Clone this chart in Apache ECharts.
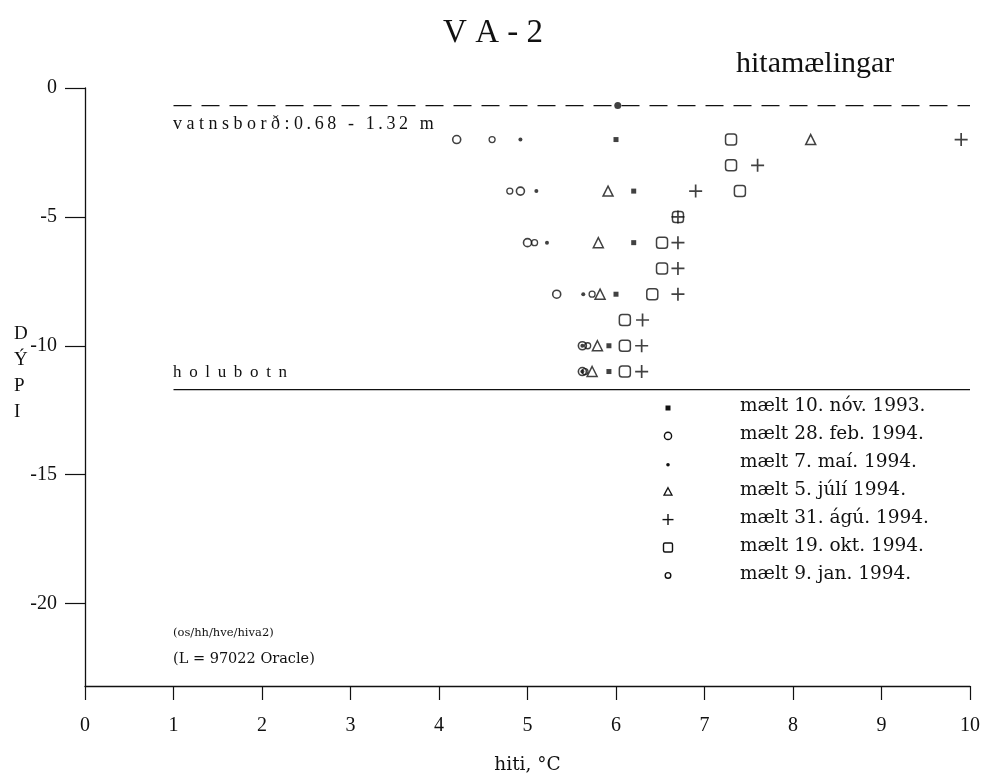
<!DOCTYPE html>
<html>
<head>
<meta charset="utf-8">
<title>VA-2 hitamælingar</title>
<script src="https://cdn.jsdelivr.net/npm/echarts@6/dist/echarts.min.js"></script>
<style>
  html, body { margin: 0; padding: 0; background: #fff; }
  #chart { width: 986px; height: 775px; }
</style>
</head>
<body>
<div id="chart"></div>
<script>
// Temperature profiles in well VA-2: depth (m, negative downwards) vs. temperature (°C)

const xTicks = [0, 1, 2, 3, 4, 5, 6, 7, 8, 9, 10];
const yTicks = [0, -5, -10, -15, -20];

// mælt 10. nóv. 1993
const novTemp  = [6.0, 6.2, 6.2, 6.0, 5.92, 5.92];
const novDepth = [-2, -4, -6, -8, -10, -11];
// mælt 28. feb. 1994
const febTemp  = [4.2, 4.92, 5.0, 5.33, 5.62, 5.62];
const febDepth = [-2, -4, -6, -8, -10, -11];
// mælt 7. maí. 1994
const maiTemp  = [4.92, 5.1, 5.22, 5.63, 5.62, 5.62];
const maiDepth = [-2, -4, -6, -8, -10, -11];
// mælt 5. júlí 1994
const juliTemp  = [8.2, 5.91, 5.8, 5.82, 5.79, 5.73];
const juliDepth = [-2, -4, -6, -8, -10, -11];
// mælt 31. ágú. 1994
const aguTemp  = [9.9, 7.6, 6.9, 6.7, 6.7, 6.7, 6.7, 6.3, 6.29, 6.29];
const aguDepth = [-2, -3, -4, -5, -6, -7, -8, -9, -10, -11];
// mælt 19. okt. 1994
const oktTemp  = [7.3, 7.3, 7.4, 6.7, 6.52, 6.52, 6.41, 6.1, 6.1, 6.1];
const oktDepth = [-2, -3, -4, -5, -6, -7, -8, -9, -10, -11];
// mælt 9. jan. 1994
const janTemp  = [4.6, 4.8, 5.08, 5.73, 5.68, 5.65];
const janDepth = [-2, -4, -6, -8, -10, -11];

// single reading on the water level
const surfaceTemp = [6.02];
const surfaceDepth = [-0.68];

// water level and well bottom
const waterLevel = -0.68;
const wellBottom = -11.7;
const levelSpan = [1, 10];

const legendLabels = [
  'mælt 10. nóv. 1993.',
  'mælt 28. feb. 1994.',
  'mælt 7. maí. 1994.',
  'mælt 5. júlí 1994.',
  'mælt 31. ágú. 1994.',
  'mælt 19. okt. 1994.',
  'mælt 9. jan. 1994.'
];

const FONT = '"Liberation Serif", "DejaVu Serif", serif';
const WIDE = '"DejaVu Serif", "Liberation Serif", serif';
const INK = '#111';
const PLUS = 'path://M4.35,0H5.65V4.35H10V5.65H5.65V10H4.35V5.65H0V4.35H4.35Z';
const THIN = '\u2009';

function pairs(xs, ys) { return xs.map((x, i) => [x, ys[i]]); }
function track(s, gap) { return s.split('').join(gap); }

// marker style per measurement
const markers = [
  { symbol: 'rect', size: 5, style: { color: INK } },
  { symbol: 'circle', size: 8, style: { color: 'rgba(255,255,255,0)', borderColor: INK, borderWidth: 1.6 } },
  { symbol: 'circle', size: 4, style: { color: INK } },
  { symbol: 'triangle', size: 10, style: { color: 'rgba(255,255,255,0)', borderColor: INK, borderWidth: 1.5 } },
  { symbol: PLUS, size: 13, style: { color: INK } },
  { symbol: 'roundRect', size: 11, style: { color: 'rgba(255,255,255,0)', borderColor: INK, borderWidth: 1.5 } },
  { symbol: 'circle', size: 6, style: { color: 'rgba(255,255,255,0)', borderColor: INK, borderWidth: 1.3 } }
];

const seriesData = [
  pairs(novTemp, novDepth),
  pairs(febTemp, febDepth),
  pairs(maiTemp, maiDepth),
  pairs(juliTemp, juliDepth),
  pairs(aguTemp, aguDepth),
  pairs(oktTemp, oktDepth),
  pairs(janTemp, janDepth)
];

const chart = echarts.init(document.getElementById('chart'), null, { renderer: 'canvas' });

const scatterSeries = seriesData.map((d, i) => ({
  name: legendLabels[i],
  type: 'scatter',
  data: d,
  symbol: markers[i].symbol,
  symbolSize: markers[i].size,
  itemStyle: markers[i].style,
  z: 5,
  silent: true
}));

// hand-built legend column (symbols of differing sizes)
const legendX = 668, legendTextX = 740, legendTop = 408, legendStep = 27.9;
const legendGraphics = [];
markers.forEach((m, i) => {
  const cy = legendTop + i * legendStep;
  const s = m.size;
  let shape;
  if (m.symbol === 'rect') {
    shape = { type: 'rect', shape: { x: legendX - s / 2, y: cy - s / 2, width: s, height: s }, style: { fill: INK } };
  } else if (m.symbol === 'roundRect') {
    const w = 9;
    shape = { type: 'rect', shape: { x: legendX - w / 2, y: cy - w / 2, width: w, height: w, r: 1.5 }, style: { fill: 'none', stroke: INK, lineWidth: 1.4 } };
  } else if (m.symbol === 'triangle') {
    shape = { type: 'polygon', shape: { points: [[legendX, cy - 4], [legendX + 4, cy + 3.5], [legendX - 4, cy + 3.5]] }, style: { fill: 'none', stroke: INK, lineWidth: 1.3 } };
  } else if (m.symbol === PLUS) {
    shape = { type: 'group', children: [
      { type: 'rect', shape: { x: legendX - 5.5, y: cy - 0.7, width: 11, height: 1.4 }, style: { fill: INK } },
      { type: 'rect', shape: { x: legendX - 0.7, y: cy - 5.5, width: 1.4, height: 11 }, style: { fill: INK } }
    ] };
  } else if (m.style.borderColor) {
    shape = { type: 'circle', shape: { cx: legendX, cy: cy, r: i === 1 ? 3.6 : 2.8 }, style: { fill: 'none', stroke: INK, lineWidth: 1.4 } };
  } else {
    shape = { type: 'circle', shape: { cx: legendX, cy: cy + 1, r: 1.8 }, style: { fill: INK } };
  }
  legendGraphics.push(shape);
  legendGraphics.push({
    type: 'text', left: legendTextX, top: cy - 11,
    style: { text: legendLabels[i], font: '18.5px ' + WIDE, fill: INK }
  });
});

const option = {
  backgroundColor: '#ffffff',
  animation: false,
  grid: { left: 85, right: 16, top: 88, bottom: 89, containLabel: false, outerBoundsMode: 'none' },
  xAxis: {
    type: 'value', min: 0, max: 10, interval: 1,
    axisLine: { onZero: false, lineStyle: { color: INK, width: 1.3 } },
    axisTick: { show: true, length: 14, lineStyle: { color: INK, width: 1.2 }, customValues: xTicks },
    axisLabel: { margin: 30, color: INK, fontSize: 20, fontFamily: FONT, customValues: xTicks },
    splitLine: { show: false },
    name: 'hiti, °C', nameLocation: 'middle', nameGap: 70,
    nameTextStyle: { color: INK, fontSize: 18.5, fontFamily: WIDE }
  },
  yAxis: {
    type: 'value', min: -23.2, max: 0,
    axisLine: { onZero: false, lineStyle: { color: INK, width: 1.3 } },
    axisTick: { show: true, length: 20, lineStyle: { color: INK, width: 1.2 }, customValues: yTicks },
    axisLabel: { margin: 28, color: INK, fontSize: 20, fontFamily: FONT, customValues: yTicks },
    splitLine: { show: false }
  },
  series: [
    ...scatterSeries,
    {
      name: 'vatnsborð mæling', type: 'scatter', data: pairs(surfaceTemp, surfaceDepth),
      symbol: 'circle', symbolSize: 7, itemStyle: { color: INK }, z: 6, silent: true
    },
    {
      name: 'vatnsborð', type: 'line', data: levelSpan.map(x => [x, waterLevel]),
      symbol: 'none', silent: true,
      lineStyle: { color: INK, width: 1.3, type: [18, 10] }
    },
    {
      name: 'holubotn', type: 'line', data: levelSpan.map(x => [x, wellBottom]),
      symbol: 'none', silent: true,
      lineStyle: { color: INK, width: 1.3 }
    }
  ],
  graphic: [
    { type: 'text', left: 'center', top: 17, style: { text: 'V A - 2', font: '33px ' + FONT, fill: INK } },
    { type: 'text', left: 736, top: 49, style: { text: 'hitamælingar', font: '30px ' + FONT, fill: INK } },
    { type: 'text', left: 173, top: 115, style: { text: 'v a t n s b o r ð : ' + track('0.68 - 1.32 m', THIN), font: '18px ' + FONT, fill: INK } },
    { type: 'text', left: 173, top: 364, style: { text: 'h' + ' \u2009o \u2009l \u2009u \u2009b \u2009o \u2009t \u2009n', font: '17px ' + FONT, fill: INK } },
    { type: 'text', left: 173, top: 627, style: { text: '(os/hh/hve/hiva2)', font: '11.5px ' + WIDE, fill: INK } },
    { type: 'text', left: 173, top: 652, style: { text: '(L = 97022 Oracle)', font: '14.5px ' + WIDE, fill: INK } },
    { type: 'text', left: 14, top: 321, style: { text: 'D\nÝ\nP\nI', font: '19px ' + FONT, fill: INK, lineHeight: 26, align: 'left' } },
    ...legendGraphics
  ]
};

chart.setOption(option);
</script>
</body>
</html>
